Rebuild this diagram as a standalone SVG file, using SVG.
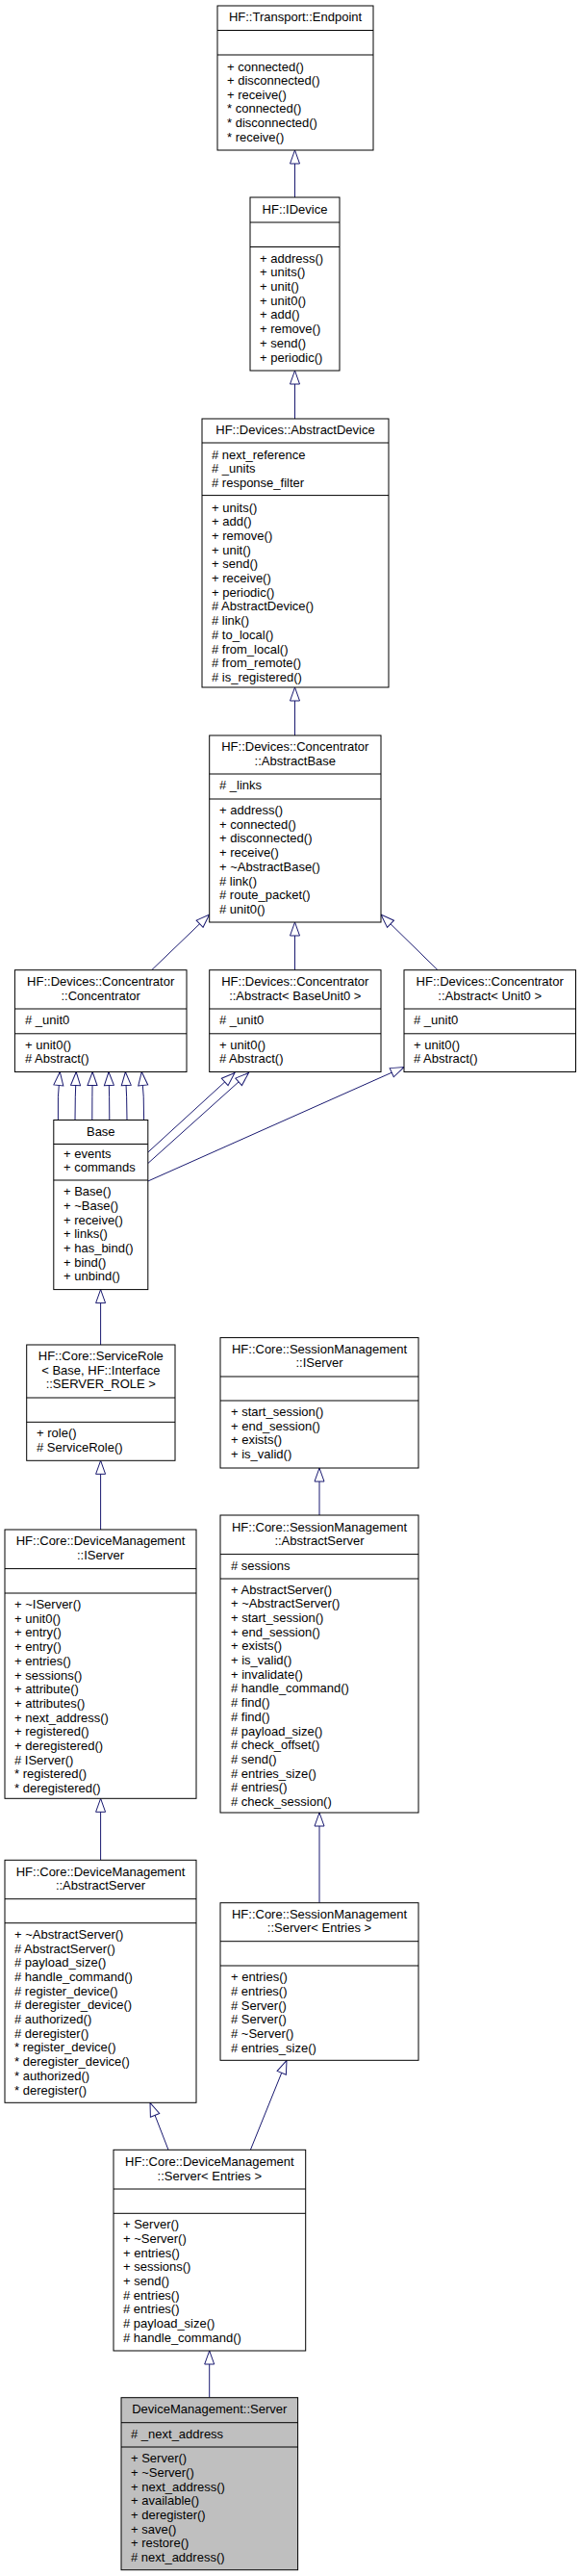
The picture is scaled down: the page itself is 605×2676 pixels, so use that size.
<svg xmlns="http://www.w3.org/2000/svg" width="605" height="2676" viewBox="0 0 605 2676">
<style>
.b{fill:#fff;stroke:#000;stroke-width:1}
.g{fill:#bfbfbf;stroke:#000;stroke-width:1}
.s{stroke:#000;stroke-width:1}
text{font-family:"Liberation Sans",Arial,sans-serif;font-size:13px;fill:#000;white-space:pre}
.c{text-anchor:middle}
.e{fill:none;stroke:#191970;stroke-width:1;marker-end:url(#tri)}
</style>
<defs>
<marker id="tri" markerUnits="userSpaceOnUse" markerWidth="16" markerHeight="12" refX="14" refY="5" orient="auto" viewBox="-1 -1 16 12">
<path d="M0,0 L14,5 L0,10 Z" fill="#fff" stroke="#191970" stroke-width="1"/>
</marker>
</defs>
<rect width="605" height="2676" fill="#fff"/>
<g id="connectors">
<path class="e" d="M306.5,205 V156"/>
<path class="e" d="M306.5,435 V385"/>
<path class="e" d="M306.5,764 V714"/>
<path class="e" d="M157.7,1007.7 L217.7,950"/>
<path class="e" d="M306.5,1007.7 V958"/>
<path class="e" d="M455,1007.7 L396,950"/>
<path class="e" d="M60.4,1163.5 Q59.5,1140 62.3,1113.5"/>
<path class="e" d="M78,1163.5 Q78,1140 79.2,1113.5"/>
<path class="e" d="M95.8,1163.5 Q95.8,1140 96.2,1113.5"/>
<path class="e" d="M113.8,1163.5 Q113.8,1140 113,1113.5"/>
<path class="e" d="M132,1163.5 Q132,1140 130.4,1113.5"/>
<path class="e" d="M149.6,1163.5 Q150,1140 147.3,1113.5"/>
<path class="e" d="M153.8,1197 L244,1114.5"/>
<path class="e" d="M153.8,1208.5 L258.5,1114.5"/>
<path class="e" d="M153.8,1227 L420,1108.5"/>
<path class="e" d="M104.6,1397 V1339.6"/>
<path class="e" d="M104.6,1589 V1517.3"/>
<path class="e" d="M332,1574 V1525"/>
<path class="e" d="M104.6,1932.3 V1868.3"/>
<path class="e" d="M332,1976.7 V1883"/>
<path class="e" d="M175,2233.3 L156,2184.3"/>
<path class="e" d="M260.4,2233.3 L298,2140.3"/>
<path class="e" d="M217.7,2490.7 V2442"/>
</g>
<g id="endpoint">
<rect class="b" x="226" y="6" width="162" height="150"/>
<path class="s" d="M226,31.5 H388 M226,57 H388"/>
<text class="c" x="307" y="21.8">HF::Transport::Endpoint</text>
<text x="236" y="73.5">+ connected()</text>
<text x="236" y="88.1">+ disconnected()</text>
<text x="236" y="102.7">+ receive()</text>
<text x="236" y="117.4">* connected()</text>
<text x="236" y="132.1">* disconnected()</text>
<text x="236" y="146.8">* receive()</text>
</g>
<g id="idevice">
<rect class="b" x="260" y="205" width="93" height="180"/>
<path class="s" d="M260,231 H353 M260,256.5 H353"/>
<text class="c" x="306.5" y="222">HF::IDevice</text>
<text x="270" y="272.6">+ address()</text>
<text x="270" y="287.3">+ units()</text>
<text x="270" y="302">+ unit()</text>
<text x="270" y="316.7">+ unit0()</text>
<text x="270" y="331.4">+ add()</text>
<text x="270" y="346.1">+ remove()</text>
<text x="270" y="360.8">+ send()</text>
<text x="270" y="375.5">+ periodic()</text>
</g>
<g id="abstractdevice">
<rect class="b" x="210" y="435" width="194" height="279"/>
<path class="s" d="M210,460 H404 M210,514.6 H404"/>
<text class="c" x="307" y="451">HF::Devices::AbstractDevice</text>
<text x="220" y="476.5"># next_reference</text>
<text x="220" y="491.2"># _units</text>
<text x="220" y="505.9"># response_filter</text>
<text x="220" y="531.5">+ units()</text>
<text x="220" y="546.2">+ add()</text>
<text x="220" y="560.9">+ remove()</text>
<text x="220" y="575.6">+ unit()</text>
<text x="220" y="590.3">+ send()</text>
<text x="220" y="605">+ receive()</text>
<text x="220" y="619.7">+ periodic()</text>
<text x="220" y="634.4"># AbstractDevice()</text>
<text x="220" y="649.1"># link()</text>
<text x="220" y="663.8"># to_local()</text>
<text x="220" y="678.5"># from_local()</text>
<text x="220" y="693.2"># from_remote()</text>
<text x="220" y="707.9"># is_registered()</text>
</g>
<g id="abstractbase">
<rect class="b" x="217.7" y="764" width="178.3" height="194"/>
<path class="s" d="M217.7,804 H396 M217.7,830 H396"/>
<text class="c" x="306.8" y="780">HF::Devices::Concentrator</text>
<text class="c" x="306.8" y="794.6">::AbstractBase</text>
<text x="228" y="820"># _links</text>
<text x="228" y="846">+ address()</text>
<text x="228" y="860.7">+ connected()</text>
<text x="228" y="875.4">+ disconnected()</text>
<text x="228" y="890.1">+ receive()</text>
<text x="228" y="904.8">+ ~AbstractBase()</text>
<text x="228" y="919.5"># link()</text>
<text x="228" y="934.2"># route_packet()</text>
<text x="228" y="948.9"># unit0()</text>
</g>
<g id="concentrator">
<rect class="b" x="15.4" y="1007.7" width="178.6" height="105.8"/>
<path class="s" d="M15.4,1048 H194 M15.4,1073.8 H194"/>
<text class="c" x="104.7" y="1023.5">HF::Devices::Concentrator</text>
<text class="c" x="104.7" y="1039">::Concentrator</text>
<text x="26" y="1064.1"># _unit0</text>
<text x="26" y="1089.5">+ unit0()</text>
<text x="26" y="1104.2"># Abstract()</text>
</g>
<g id="abstract-baseunit0">
<rect class="b" x="217.7" y="1007.7" width="178.3" height="105.8"/>
<path class="s" d="M217.7,1048 H396 M217.7,1073.8 H396"/>
<text class="c" x="306.8" y="1023.5">HF::Devices::Concentrator</text>
<text class="c" x="306.8" y="1039">::Abstract&lt; BaseUnit0 &gt;</text>
<text x="228" y="1064.1"># _unit0</text>
<text x="228" y="1089.5">+ unit0()</text>
<text x="228" y="1104.2"># Abstract()</text>
</g>
<g id="abstract-unit0">
<rect class="b" x="420" y="1007.7" width="178.5" height="105.8"/>
<path class="s" d="M420,1048 H598.5 M420,1073.8 H598.5"/>
<text class="c" x="509.2" y="1023.5">HF::Devices::Concentrator</text>
<text class="c" x="509.2" y="1039">::Abstract&lt; Unit0 &gt;</text>
<text x="430" y="1064.1"># _unit0</text>
<text x="430" y="1089.5">+ unit0()</text>
<text x="430" y="1104.2"># Abstract()</text>
</g>
<g id="base">
<rect class="b" x="55.8" y="1163.5" width="98" height="176.1"/>
<path class="s" d="M55.8,1188.5 H153.8 M55.8,1226 H153.8"/>
<text class="c" x="104.8" y="1179.5">Base</text>
<text x="66" y="1202.5">+ events</text>
<text x="66" y="1217.2">+ commands</text>
<text x="66" y="1242.2">+ Base()</text>
<text x="66" y="1256.9">+ ~Base()</text>
<text x="66" y="1271.6">+ receive()</text>
<text x="66" y="1286.3">+ links()</text>
<text x="66" y="1301">+ has_bind()</text>
<text x="66" y="1315.7">+ bind()</text>
<text x="66" y="1330.4">+ unbind()</text>
</g>
<g id="servicerole">
<rect class="b" x="27.7" y="1397" width="154.3" height="120.3"/>
<path class="s" d="M27.7,1452 H182 M27.7,1477.3 H182"/>
<text class="c" x="104.8" y="1413">HF::Core::ServiceRole</text>
<text class="c" x="104.8" y="1428">&lt; Base, HF::Interface</text>
<text class="c" x="104.8" y="1442.2">::SERVER_ROLE &gt;</text>
<text x="38" y="1493">+ role()</text>
<text x="38" y="1508.3"># ServiceRole()</text>
</g>
<g id="sm-iserver">
<rect class="b" x="229" y="1389.6" width="206" height="135.4"/>
<path class="s" d="M229,1430 H435 M229,1455 H435"/>
<text class="c" x="332" y="1405.5">HF::Core::SessionManagement</text>
<text class="c" x="332" y="1419.9">::IServer</text>
<text x="240" y="1471">+ start_session()</text>
<text x="240" y="1485.7">+ end_session()</text>
<text x="240" y="1500.4">+ exists()</text>
<text x="240" y="1515.1">+ is_valid()</text>
</g>
<g id="dm-iserver">
<rect class="b" x="5" y="1589" width="199" height="279.3"/>
<path class="s" d="M5,1629.6 H204 M5,1655 H204"/>
<text class="c" x="104.5" y="1605.3">HF::Core::DeviceManagement</text>
<text class="c" x="104.5" y="1619.9">::IServer</text>
<text x="15" y="1671">+ ~IServer()</text>
<text x="15" y="1685.7">+ unit0()</text>
<text x="15" y="1700.4">+ entry()</text>
<text x="15" y="1715.1">+ entry()</text>
<text x="15" y="1729.8">+ entries()</text>
<text x="15" y="1744.5">+ sessions()</text>
<text x="15" y="1759.2">+ attribute()</text>
<text x="15" y="1773.9">+ attributes()</text>
<text x="15" y="1788.6">+ next_address()</text>
<text x="15" y="1803.3">+ registered()</text>
<text x="15" y="1818">+ deregistered()</text>
<text x="15" y="1832.7"># IServer()</text>
<text x="15" y="1847.4">* registered()</text>
<text x="15" y="1862.1">* deregistered()</text>
</g>
<g id="sm-abstractserver">
<rect class="b" x="229" y="1574" width="206" height="309"/>
<path class="s" d="M229,1614.6 H435 M229,1640 H435"/>
<text class="c" x="332" y="1590.5">HF::Core::SessionManagement</text>
<text class="c" x="332" y="1604.9">::AbstractServer</text>
<text x="240" y="1631"># sessions</text>
<text x="240" y="1655.5">+ AbstractServer()</text>
<text x="240" y="1670.2">+ ~AbstractServer()</text>
<text x="240" y="1684.9">+ start_session()</text>
<text x="240" y="1699.6">+ end_session()</text>
<text x="240" y="1714.3">+ exists()</text>
<text x="240" y="1729">+ is_valid()</text>
<text x="240" y="1743.7">+ invalidate()</text>
<text x="240" y="1758.4"># handle_command()</text>
<text x="240" y="1773.1"># find()</text>
<text x="240" y="1787.8"># find()</text>
<text x="240" y="1802.5"># payload_size()</text>
<text x="240" y="1817.2"># check_offset()</text>
<text x="240" y="1831.9"># send()</text>
<text x="240" y="1846.6"># entries_size()</text>
<text x="240" y="1861.3"># entries()</text>
<text x="240" y="1876"># check_session()</text>
</g>
<g id="dm-abstractserver">
<rect class="b" x="5" y="1932.3" width="199" height="252"/>
<path class="s" d="M5,1972.7 H204 M5,1997.7 H204"/>
<text class="c" x="104.5" y="1948.8">HF::Core::DeviceManagement</text>
<text class="c" x="104.5" y="1962.8">::AbstractServer</text>
<text x="15" y="2013.8">+ ~AbstractServer()</text>
<text x="15" y="2028.5"># AbstractServer()</text>
<text x="15" y="2043.2"># payload_size()</text>
<text x="15" y="2057.9"># handle_command()</text>
<text x="15" y="2072.6"># register_device()</text>
<text x="15" y="2087.3"># deregister_device()</text>
<text x="15" y="2102"># authorized()</text>
<text x="15" y="2116.7"># deregister()</text>
<text x="15" y="2131.4">* register_device()</text>
<text x="15" y="2146.1">* deregister_device()</text>
<text x="15" y="2160.8">* authorized()</text>
<text x="15" y="2175.5">* deregister()</text>
</g>
<g id="sm-server">
<rect class="b" x="229" y="1976.7" width="206" height="163.6"/>
<path class="s" d="M229,2016.7 H435 M229,2042 H435"/>
<text class="c" x="332" y="1993.2">HF::Core::SessionManagement</text>
<text class="c" x="332" y="2006.8">::Server&lt; Entries &gt;</text>
<text x="240" y="2058.2">+ entries()</text>
<text x="240" y="2072.9"># entries()</text>
<text x="240" y="2087.6"># Server()</text>
<text x="240" y="2102.3"># Server()</text>
<text x="240" y="2117"># ~Server()</text>
<text x="240" y="2131.7"># entries_size()</text>
</g>
<g id="dm-server-entries">
<rect class="b" x="118" y="2233.3" width="199.7" height="208.7"/>
<path class="s" d="M118,2274 H317.7 M118,2299.3 H317.7"/>
<text class="c" x="217.8" y="2249.5">HF::Core::DeviceManagement</text>
<text class="c" x="217.8" y="2265.2">::Server&lt; Entries &gt;</text>
<text x="128" y="2315.2">+ Server()</text>
<text x="128" y="2329.9">+ ~Server()</text>
<text x="128" y="2344.6">+ entries()</text>
<text x="128" y="2359.3">+ sessions()</text>
<text x="128" y="2374">+ send()</text>
<text x="128" y="2388.7"># entries()</text>
<text x="128" y="2403.4"># entries()</text>
<text x="128" y="2418.1"># payload_size()</text>
<text x="128" y="2432.8"># handle_command()</text>
</g>
<g id="devicemanagement-server">
<rect class="g" x="126" y="2490.7" width="183.6" height="179"/>
<path class="s" d="M126,2516.7 H309.6 M126,2542 H309.6"/>
<text class="c" x="217.8" y="2506.8">DeviceManagement::Server</text>
<text x="136" y="2532.8"># _next_address</text>
<text x="136" y="2558.2">+ Server()</text>
<text x="136" y="2572.9">+ ~Server()</text>
<text x="136" y="2587.6">+ next_address()</text>
<text x="136" y="2602.3">+ available()</text>
<text x="136" y="2617">+ deregister()</text>
<text x="136" y="2631.7">+ save()</text>
<text x="136" y="2646.4">+ restore()</text>
<text x="136" y="2661.1"># next_address()</text>
</g>
</svg>
